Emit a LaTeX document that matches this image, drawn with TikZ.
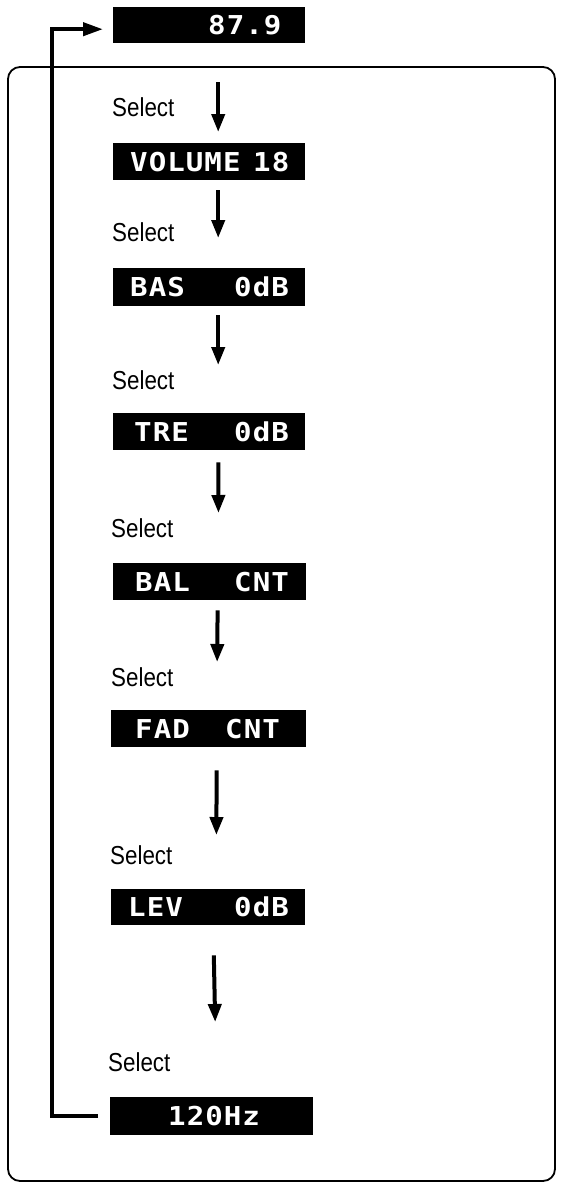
\documentclass[tikz,border=0pt]{standalone}
\usepackage{fontspec}
\usetikzlibrary{arrows.meta}
\newfontfamily\selfont[FakeStretch=0.86]{Liberation Sans}
\newfontfamily\lcdfont[FakeStretch=1.12,LetterSpace=4]{DejaVu Sans Mono Bold}
\begin{document}
\begin{tikzpicture}[x=1pt,y=-1pt,
  lcdbox/.style={fill=black, draw=none, inner sep=0pt, anchor=north west},
  lcdtext/.style={text=white, font=\lcdfont\fontsize{26}{26}\selectfont, inner sep=0pt, anchor=base west},
  sellabel/.style={font=\selfont\fontsize{26}{26}\selectfont, inner sep=0pt, anchor=base west},
  darrow/.style={line width=4pt, -{Triangle[length=18pt,width=13pt]}},
  looparrow/.style={line width=4pt, -{Triangle[length=20pt,width=13pt]}},
  frame/.style={draw=black, line width=1.8pt, rounded corners=12pt}]
\useasboundingbox (0,0) rectangle (564,1184);
% outer frame
\draw[frame] (8,67) rectangle (555,1181);
% LCD boxes
\node[lcdbox, minimum width=192pt, minimum height=36pt] (n1) at (113,7) {};
\node[lcdbox, minimum width=192pt, minimum height=37pt] (n2) at (113,143) {};
\node[lcdbox, minimum width=192pt, minimum height=38pt] (n3) at (113,268) {};
\node[lcdbox, minimum width=192pt, minimum height=37pt] (n4) at (113,413) {};
\node[lcdbox, minimum width=193pt, minimum height=37pt] (n5) at (113,563) {};
\node[lcdbox, minimum width=195pt, minimum height=37pt] (n6) at (111,710) {};
\node[lcdbox, minimum width=194pt, minimum height=36pt] (n7) at (111,889) {};
\node[lcdbox, minimum width=203pt, minimum height=38pt] (n8) at (110,1097) {};
% LCD texts
\node[lcdtext] (t1) at (208,34.5) {87.9};
\node[lcdtext] (t2a) at (130,171) {VOLUME};
\node[lcdtext] (t2b) at (253,171) {18};
\node[lcdtext] (t3a) at (130,296.5) {BAS};
\node[lcdtext] (t3b) at (234,296.5) {0dB};
\node[lcdtext] (t4a) at (134,441) {TRE};
\node[lcdtext] (t4b) at (234,441) {0dB};
\node[lcdtext] (t5a) at (135,591) {BAL};
\node[lcdtext] (t5b) at (234,591) {CNT};
\node[lcdtext] (t6a) at (135,738) {FAD};
\node[lcdtext] (t6b) at (225,738) {CNT};
\node[lcdtext] (t7a) at (128,916.5) {LEV};
\node[lcdtext] (t7b) at (234,916.5) {0dB};
\node[lcdtext] (t8) at (168,1125.5) {120Hz};
% Select labels
\node[sellabel] (s1) at (112,116) {Select};
\node[sellabel] (s2) at (112,241) {Select};
\node[sellabel] (s3) at (112,389) {Select};
\node[sellabel] (s4) at (111,537) {Select};
\node[sellabel] (s5) at (111,686) {Select};
\node[sellabel] (s6) at (110,864) {Select};
\node[sellabel] (s7) at (108,1071) {Select};
% down arrows
\draw[darrow, shorten <=39pt, shorten >=11pt] ([xshift=9pt]n1.south) -- ([xshift=9pt]n2.north);
\draw[darrow, shorten <=10pt, shorten >=30pt] ([xshift=9pt]n2.south) -- ([xshift=9pt]n3.north);
\draw[darrow, shorten <=9pt, shorten >=48pt] ([xshift=9pt]n3.south) -- ([xshift=9pt]n4.north);
\draw[darrow, shorten <=12pt, shorten >=50pt] ([xshift=9pt]n4.south) -- ([xshift=9pt]n5.north);
\draw[darrow, shorten <=10pt, shorten >=48pt] ([xshift=8pt]n5.south) -- ([xshift=8pt]n6.north);
\draw[darrow, shorten <=23pt, shorten >=54pt] ([xshift=8pt]n6.south) -- ([xshift=8pt]n7.north);
\draw[darrow, shorten <=30pt, shorten >=75pt] ([xshift=5pt]n7.south) -- ([xshift=5pt]n8.north);
% loop back
\coordinate (lp) at (52,600);
\draw[looparrow, shorten <=12pt, shorten >=10pt] (n8.west) -| (lp) |- ([yshift=-4pt]n1.west);
\end{tikzpicture}
\end{document}
